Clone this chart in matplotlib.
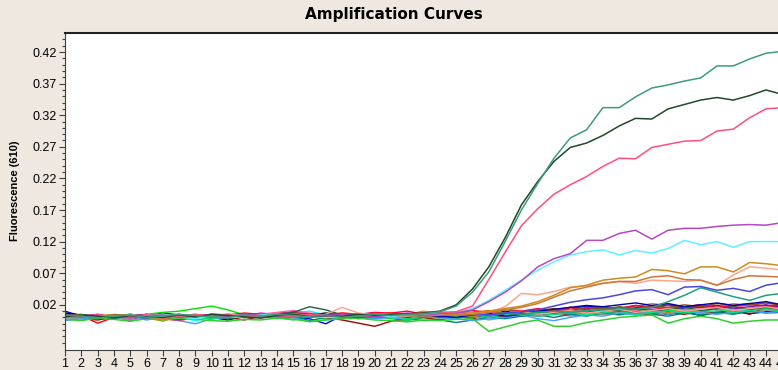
import matplotlib.pyplot as plt
import numpy as np

cycles = list(range(1, 46))

# amplification curves (fluorescence x 1000)
teal_amp = [4, 2, -1, 2, 4, 0, 2, 5, 3, 1, 0, 4, 2, 5, 3, 1, 4, 0, 2, 5, 3, 5, 6, 9,
            18, 40, 72, 120, 170, 212, 252, 284, 297, 332, 332, 349, 363, 368, 374, 379,
            398, 398, 409, 418, 421]
dark_amp = [1, 4, 2, -1, 3, 1, 0, 4, 1, 5, 3, 1, -1, 3, 5, 1, 3, 2, 5, 3, 5, 6, 7, 10,
            20, 45, 80, 126, 178, 215, 247, 269, 276, 288, 303, 315, 314, 330, 337, 344,
            348, 344, 351, 360, 353]
pink_amp = [0, 2, 4, 0, 2, 4, -1, 2, 5, 1, 4, 0, 2, 4, 1, 5, 3, 1, 4, 5, 6, 4, 7, 8,
            9, 18, 60, 103, 145, 172, 195, 210, 223, 239, 252, 251, 269, 274, 279, 280,
            295, 298, 316, 330, 332]
purple_amp = [2, 0, 4, 1, -1, 2, 4, 0, 2, 4, 1, 5, 3, 1, 0, 4, 2, 5, 3, 1, 4, 5, 3, 6,
              7, 12, 25, 40, 58, 80, 93, 101, 122, 122, 133, 138, 124, 138, 141, 141,
              144, 146, 147, 146, 150]
cyan_amp = [-1, 3, 1, 0, 4, 1, 5, 1, -2, 3, 1, 0, 4, 5, 1, 3, 0, 2, 5, 3, 1, 5, 3, 6,
            8, 14, 27, 43, 59, 75, 88, 99, 104, 107, 99, 106, 102, 109, 122, 115,
            120, 111, 120, 120, 120]
orange_amp = [2, 4, 0, 2, 5, 1, -2, 4, 2, 0, 4, 1, 5, 2, 4, 0, 2, 4, 5, 1, 3, 5, 3, 5,
              6, 7, 10, 14, 18, 25, 35, 47, 51, 59, 62, 64, 76, 74, 69, 80,
              80, 72, 87, 85, 82]
brown_amp = [3, 0, 2, 4, 0, 2, 5, 1, 0, 4, 1, 3, 0, 2, 5, 3, 1, 0, 4, 2, 5, 3, 2, 4,
             4, 5, 8, 12, 16, 22, 32, 42, 48, 54, 57, 57, 64, 66, 60, 59,
             51, 60, 66, 65, 64]
salmon_amp = [2, 0, 3, 1, -1, 3, 2, 0, 4, 1, 0, 3, 2, 5, 3, 1, 0, 4, 2, 5, 3, 2, 4, 5,
              4, 6, 8, 17, 38, 36, 41, 48, 50, 54, 57, 54, 59, 58, 57, 59,
              51, 67, 80, 78, 75]
blue_amp = [0, 2, 4, 0, 2, -1, 4, 2, 0, 2, 4, 0, 2, 4, 0, 2, 4, 2, 0, 4, 2, 4, 5, 3,
            4, 5, 4, 7, 9, 12, 18, 24, 28, 31, 36, 42, 44, 36, 48, 49,
            43, 46, 41, 51, 55]
tealg_amp = [1, 4, 0, 2, 4, 1, -1, 3, 1, 0, 2, 4, 0, 2, 4, 1, 0, 2, 4, 0, 2, 4, 1, 5,
             3, 5, 4, 7, 5, 8, 10, 8, 11, 12, 14, 13, 16, 25, 35, 47,
             40, 33, 27, 35, 38]
green_low = [-3, -5, -1, -3, -6, -2, -4, -1, -3, -5, -6, -3, -4, -1, -3, -6, -4, -2, -1, -4,
             -5, -7, -4, -5, -3, -2, -22, -15, -8, -4, -14, -14, -8, -4, 0, 2, 4, -9, -2, 2,
             -2, -9, -6, -4, -4]

amp_curves = [green_low, tealg_amp, blue_amp, salmon_amp, brown_amp, orange_amp,
              cyan_amp, purple_amp, pink_amp, dark_amp, teal_amp]
amp_colors = ['#30d030', '#20a080', '#4848e0', '#ffa58a', '#c8783c', '#d08a20',
              '#5ef2ff', '#b448c0', '#ff4f80', '#1e4a28', '#3c9c78']

# baseline (negative) wells, x 1000
base_curves = [
    [5, 3, -9, 0, 2, 4, -2, -5, 0, 4, 2, 6, 3, 7, 8, 5, 3, 1, 5, 3,
     6, 4, 7, 3, 5, 8, 4, 7, 11, 8, 13, 10, 14, 17, 12, 15, 18, 14, 16, 19,
     15, 18, 13, 16, 19],
    [10, 2, 0, 4, -4, 2, 7, 4, 0, 2, 5, 0, 4, 2, 0, -2, -10, 3, 2, 0,
     4, 0, 5, 2, -2, 4, 0, 7, 5, 10, 8, 14, 18, 15, 12, 16, 13, 10, 15, 18,
     12, 16, 13, 19, 17],
    [-4, 0, 2, 4, 0, 5, 8, 10, 14, 18, 12, 4, 2, 0, -4, 2, -2, 0, 4, 2,
     -2, -5, 0, -4, 2, 0, 4, 7, 2, 5, 9, 6, 11, 8, 5, 9, 6, 12, 9, 7,
     10, 6, 9, 12, 7],
    [2, 5, 0, 2, -6, 4, 0, -4, 2, 5, 4, 2, 7, 4, 10, 5, 2, 4, 0, 5,
     3, 7, 2, 5, 3, 0, 8, 5, 10, 6, 12, 9, 14, 11, 15, 12, 18, 14, 17, 20,
     15, 18, 14, 17, 20],
    [0, 4, 2, -2, 0, 5, 4, 0, -5, 2, 5, 4, 2, 5, 7, 10, 4, 2, 5, 0,
     2, 5, 4, 0, 4, 7, 2, 5, 8, 4, 7, 11, 8, 12, 9, 14, 11, 15, 12, 14,
     17, 12, 15, 14, 18],
    [7, 4, 2, 0, 4, 2, 5, 0, 4, 0, -4, 2, 4, 5, 2, 4, 7, 5, 4, 7,
     5, 4, 7, 5, 8, 7, 4, 10, 5, 8, 11, 8, 12, 9, 6, 11, 8, 5, 9, 3,
     8, 11, 6, 9, 12],
    [2, -2, -4, 0, 2, -2, 0, 4, 2, -2, 0, -4, 2, 0, 4, 2, 0, -4, -9, -14,
     -6, -2, 0, -4, 2, -2, 4, 0, 5, 2, 7, 4, 8, 5, 10, 7, 4, 8, 5, 10,
     7, 11, 5, 16, 10],
    [4, 0, 5, 2, 4, 0, -6, 2, 4, 0, 2, 5, 4, 0, 2, 5, 4, 7, 5, 4,
     8, 5, 10, 7, 5, 8, 11, 7, 10, 13, 10, 14, 11, 16, 13, 17, 22, 19, 16, 20,
     17, 22, 19, 23, 20],
    [-2, 2, 4, 0, -4, 0, 2, 5, 0, 4, 2, 0, 5, 8, 11, 7, 4, 2, 0, 4,
     5, 2, 4, 7, 4, 5, 2, 7, 4, 8, 5, 10, 13, 8, 14, 11, 16, 13, 17, 14,
     19, 16, 20, 17, 19],
    [5, 2, 0, 4, 2, 5, 0, -2, 4, 2, 0, 4, 2, 5, 4, 0, 4, 2, 5, 2,
     4, 0, 5, 2, 7, 4, 0, 5, 2, 7, 10, 16, 13, 17, 14, 19, 16, 20, 17, 16,
     19, 14, 17, 20, 16],
    [0, -2, 2, 4, 0, 2, -2, 0, 2, 4, 5, 2, 4, 0, 2, 4, 2, 5, 4, 2,
     0, 4, 2, -2, 0, 2, -4, 0, 4, 2, 5, 2, 7, 4, 8, 5, 10, 7, 11, 8,
     10, 13, 8, 11, 10],
    [4, 0, -2, 2, 0, 4, 2, 5, 0, 2, -2, 2, 0, 4, 2, -5, 0, 2, -2, 0,
     4, -2, -5, -4, -8, -4, 0, -2, 2, 4, 0, 5, 2, 7, 4, 8, 5, 2, 7, 4,
     8, 5, 10, 7, 8],
    [2, 4, 0, 5, 2, 0, 4, 2, 5, 0, 4, 2, 0, 4, 5, 2, 4, 0, 2, 5,
     2, 4, 7, 4, 5, 2, 5, 8, 4, 7, 10, 7, 11, 14, 10, 13, 11, 8, 13, 10,
     14, 11, 16, 13, 14],
    [-5, -2, 0, -2, 2, -4, 0, -5, -10, -2, 0, 4, 2, -2, 0, -7, -4, 0, 2, -2,
     0, -4, 2, 0, -2, -5, -2, 0, 4, -2, -5, 0, 4, 2, 7, 4, 8, 5, 10, 7,
     5, 8, 11, 7, 10],
    [4, 2, 5, 0, 4, 2, 0, -4, 2, 5, 4, 7, 5, 2, 8, 5, 4, 7, 5, 8,
     7, 10, 5, 8, 7, 11, 8, 13, 10, 14, 11, 16, 13, 17, 14, 19, 16, 13, 17, 20,
     16, 19, 22, 17, 20],
    [2, 0, 4, -2, 2, 0, 4, 2, 0, -2, 2, 4, 0, 2, 5, 4, 0, 2, 4, 0,
     2, -2, 0, 4, 2, 5, 0, 4, 7, 2, 5, 8, 4, 7, 10, 5, 8, 11, 7, 10,
     13, 8, 11, 14, 10],
    [0, 2, -2, 4, 0, 2, 5, 0, 4, 2, 0, 4, 2, 5, 4, 2, 0, 4, 2, 4,
     5, 2, 4, 0, 5, 8, 10, 13, 8, 11, 14, 11, 16, 13, 17, 14, 19, 16, 20, 17,
     22, 19, 20, 23, 19],
    [2, 4, 0, 2, 5, 2, 0, 4, 2, 0, 4, 2, 5, 4, 2, 5, 4, 2, 0, 4,
     2, 5, 4, 2, 0, 4, 7, 2, 5, 10, 13, 16, 19, 17, 20, 23, 19, 22, 17, 20,
     23, 19, 22, 25, 20],
    [4, 2, 0, 4, 2, 0, 2, 4, 0, 2, 4, 0, 2, 5, 8, 17, 12, 4, 2, 0,
     2, 4, 0, 5, 4, 7, 4, 8, 5, 10, 7, 11, 8, 13, 10, 14, 11, 13, 16, 11,
     14, 17, 13, 16, 14],
    [2, 0, 4, 2, 0, 4, 2, 0, 4, 2, 5, 4, 2, 0, 4, 2, 5, 16, 7, 4,
     2, 5, 4, 7, 5, 8, 4, 7, 10, 5, 8, 11, 7, 10, 13, 8, 11, 14, 10, 13,
     16, 11, 14, 17, 13],
]
base_colors = ['#ff0000', '#0000ff', '#00e000', '#ff00ff', '#00ffff', '#000000', '#a00000',
               '#ff8000', '#ff60b0', '#8000c0', '#a0a0a0', '#008080', '#a0a000', '#40a0ff',
               '#ff0040', '#00e080', '#805020', '#0000a0', '#206040', '#ffa090']

y_ticks = [0.02, 0.07, 0.12, 0.17, 0.22, 0.27, 0.32, 0.37, 0.42]

bg = '#eee8e0'
fig = plt.figure(figsize=(7.78, 3.70), dpi=100, facecolor=bg)
ax = fig.add_axes([65 / 778, 20 / 370, 735 / 778, 317 / 370])
ax.set_facecolor('white')

for vals, c in zip(base_curves, base_colors):
    ax.plot(cycles, np.array(vals) / 1000, color=c, lw=1.0)
for vals, c in zip(amp_curves, amp_colors):
    ax.plot(cycles, np.array(vals) / 1000, color=c, lw=1.1)

ax.set_xlim(1, 1 + 735 / 16.3)
ax.set_ylim(-0.0515, 0.4501)
ax.set_xticks(cycles)
ax.set_xticklabels([str(c) for c in cycles], fontsize=9, family='Liberation Sans')
ax.set_yticks(y_ticks)
ax.set_yticklabels(['%.2f' % v for v in y_ticks], fontsize=9, family='Liberation Sans')
ax.set_yticks(np.arange(-0.04, 0.45, 0.01), minor=True)
ax.tick_params(axis='both', which='major', direction='out', length=4, width=0.8,
               color='#404040', pad=2)
ax.tick_params(axis='y', which='minor', direction='out', length=2, width=0.8, color='#404040')

ax.spines['right'].set_visible(False)
ax.spines['top'].set_linewidth(1.5)
ax.spines['top'].set_color('#202020')
ax.spines['left'].set_color('#404040')
ax.spines['bottom'].set_color('#404040')

fig.text(394 / 778, 1 - 15 / 370, 'Amplification Curves', ha='center', va='center',
         fontsize=11, fontweight='bold')
fig.text(15 / 778, 1 - 191 / 370, 'Fluorescence (610)', ha='center', va='center',
         rotation=90, fontsize=8, fontweight='bold', family='Liberation Sans')

fig.savefig('out.png', dpi=100, facecolor=bg)
